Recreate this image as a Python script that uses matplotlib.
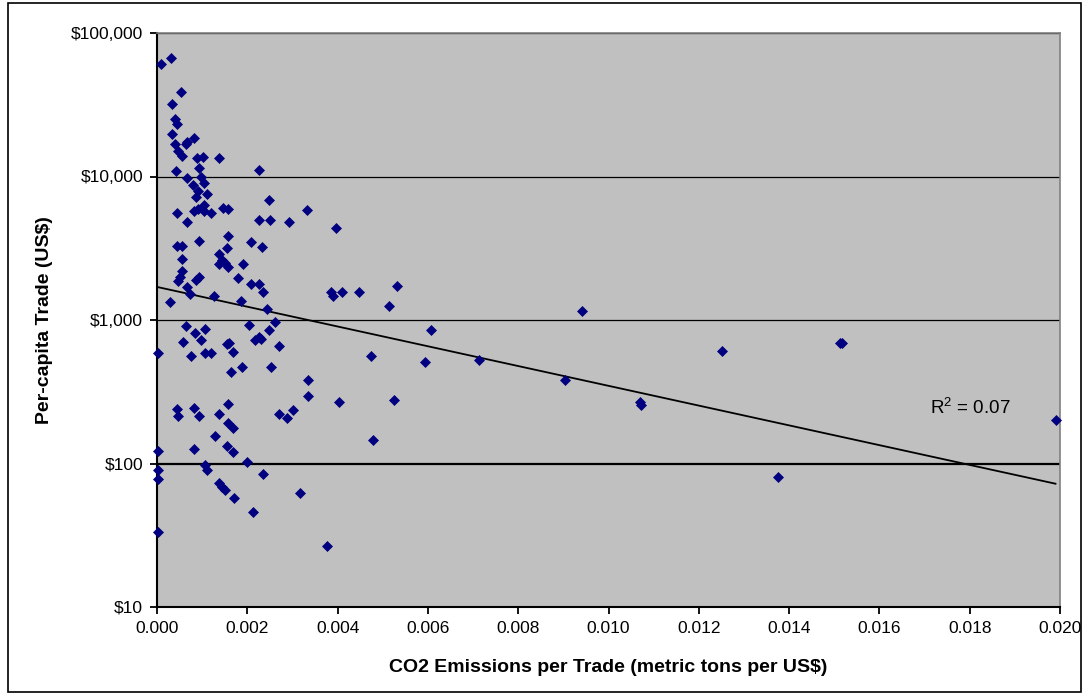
import numpy as np
import matplotlib
matplotlib.use('Agg')
import matplotlib.pyplot as plt
from matplotlib.ticker import FixedLocator, FuncFormatter, NullLocator
from matplotlib.patches import Rectangle

# CO2 emissions per trade (metric tons per US$) and per-capita trade (US$)
co2_per_trade = [
    0.00008, 0.00031, 0.00054, 0.00034, 0.00039, 0.00044, 0.00033, 0.00040, 0.00064, 0.00067,
    0.00083, 0.00047, 0.00056, 0.00088, 0.00102, 0.00137, 0.00043, 0.00092, 0.00226, 0.00066,
    0.00097, 0.00079, 0.00104, 0.00110, 0.00086, 0.00091, 0.00044, 0.00066, 0.00083, 0.00091,
    0.00105, 0.00103, 0.00119, 0.00147, 0.00158, 0.00247, 0.00226, 0.00251, 0.00292, 0.00332,
    0.00396, 0.00045, 0.00056, 0.00092, 0.00157, 0.00154, 0.00208, 0.00232, 0.00055, 0.00137,
    0.00143, 0.00137, 0.00158, 0.00151, 0.00190, 0.00055, 0.00046, 0.00051, 0.00086, 0.00093,
    0.00179, 0.00208, 0.00226, 0.00234, 0.00066, 0.00073, 0.00029, 0.00127, 0.00186, 0.00243,
    0.00385, 0.00390, 0.00409, 0.00447, 0.00531, 0.00513, 0.00941, 0.00065, 0.00084, 0.00097,
    0.00106, 0.00057, 0.00203, 0.00261, 0.00247, 0.00217, 0.00230, 0.00225, 0.00155, 0.00159,
    0.00003, 0.00075, 0.00106, 0.00120, 0.00168, 0.00270, 0.00188, 0.00163, 0.00252, 0.00335,
    0.00335, 0.00403, 0.00044, 0.00047, 0.00083, 0.00092, 0.00137, 0.00157, 0.00158, 0.00169,
    0.00270, 0.00287, 0.00301, 0.00128, 0.00003, 0.00083, 0.00154, 0.00168, 0.00003, 0.00003,
    0.00106, 0.00111, 0.00199, 0.00234, 0.00137, 0.00145, 0.00151, 0.00171, 0.00317, 0.00212,
    0.00003, 0.00376, 0.00606, 0.00473, 0.00593, 0.00713, 0.00903, 0.00526, 0.00478, 0.01070,
    0.01072, 0.01251, 0.01513, 0.01518, 0.01991, 0.01375,
]
trade_per_capita = [
    61100, 67300, 39000, 32100, 25000, 23100, 19900, 16900, 16900, 17500,
    18600, 15000, 14000, 13500, 13700, 13500, 11000, 11500, 11100, 9770,
    9930, 8730, 8970, 7550, 7160, 7890, 5600, 4840, 5780, 5940,
    6370, 5780, 5550, 6070, 5970, 6850, 4980, 4980, 4840, 5880,
    4400, 3300, 3300, 3560, 3850, 3180, 3510, 3210, 2650, 2890,
    2620, 2440, 2350, 2480, 2440, 2190, 1880, 1990, 1900, 1990,
    1950, 1770, 1780, 1570, 1690, 1520, 1330, 1470, 1350, 1200,
    1570, 1470, 1570, 1560, 1730, 1250, 1160, 912, 808, 726,
    861, 706, 923, 973, 851, 726, 736, 757, 681, 690,
    586, 564, 586, 586, 601, 659, 468, 437, 468, 382,
    295, 270, 240, 214, 245, 214, 221, 259, 190, 177,
    221, 208, 237, 156, 122, 126, 132, 120, 90, 77.6,
    97.7, 90, 103, 84.6, 72.8, 68.9, 65.3, 57.5, 61.9, 45.9,
    33.5, 26.6, 851, 564, 512, 526, 384, 279, 146, 268,
    255, 608, 692, 686, 201, 80.5,
]

# exponential trendline: value at x=0 and at the last point
trend_x = [0.0, 0.0199]
trend_y = [1700, 72.3]

x_ticks = [0.000, 0.002, 0.004, 0.006, 0.008, 0.010, 0.012, 0.014, 0.016, 0.018, 0.020]
y_ticks = [10, 100, 1000, 10000, 100000]
r2_label = 'R$^{\\mathregular{2}}$ = 0.07'

plt.rcParams['font.family'] = ['Liberation Sans', 'DejaVu Sans']
plt.rcParams['mathtext.fontset'] = 'custom'
plt.rcParams['mathtext.rm'] = 'Liberation Sans'

fig = plt.figure(figsize=(10.89, 7.0), dpi=100)
fig.patches.append(Rectangle((8 / 1089, 8 / 700), 1073 / 1089, 689 / 700,
                             transform=fig.transFigure, fill=False,
                             edgecolor='black', linewidth=1.2))

ax = fig.add_axes([157 / 1089, 1 - 607 / 700, (1060 - 157) / 1089, (607 - 33) / 700])
ax.set_facecolor('#C0C0C0')
ax.set_yscale('log')
ax.set_xlim(0, 0.020)
ax.set_ylim(10, 100000)

# y = a * exp(b x), through the two read-off values
b = np.log(trend_y[1] / trend_y[0]) / (trend_x[1] - trend_x[0])
xs = np.linspace(trend_x[0], trend_x[1], 200)
ax.plot(xs, trend_y[0] * np.exp(b * (xs - trend_x[0])), color='black', linewidth=1.3, zorder=3)

ax.plot(co2_per_trade, trade_per_capita, linestyle='none', marker='D', markersize=5.4,
        color='#000080', markeredgecolor='#000080', markeredgewidth=0.5,
        zorder=4, clip_on=False)

ax.text(0.01711, 244, r2_label, fontsize=13.5, va='center', ha='left')

ax.yaxis.set_major_locator(FixedLocator(y_ticks))
ax.yaxis.set_minor_locator(NullLocator())
ax.yaxis.set_major_formatter(FuncFormatter(lambda v, p: '\\$' + '{:,.0f}'.format(v)))
ax.xaxis.set_major_locator(FixedLocator(x_ticks))
ax.xaxis.set_major_formatter(FuncFormatter(lambda v, p: '{:.3f}'.format(v)))

ax.grid(axis='y', color='black', linewidth=0.9)
for line, val in zip(ax.get_ygridlines(), y_ticks):
    if val == 100:
        line.set_linewidth(1.6)
ax.set_axisbelow(True)

for side in ['left', 'bottom']:
    ax.spines[side].set_color('black')
    ax.spines[side].set_linewidth(1.5)
for side in ['top', 'right']:
    ax.spines[side].set_color('#808080')
    ax.spines[side].set_linewidth(1.2)

ax.tick_params(axis='both', direction='out', length=5, width=1.3,
               labelsize=12.5, colors='black', pad=5)

ax.set_xlabel('CO2 Emissions per Trade (metric tons per US$)', fontsize=14,
              fontweight='bold', labelpad=17)
ax.set_ylabel('Per-capita Trade (US$)', fontsize=14, fontweight='bold', labelpad=13)

fig.savefig('out.png', dpi=100)
